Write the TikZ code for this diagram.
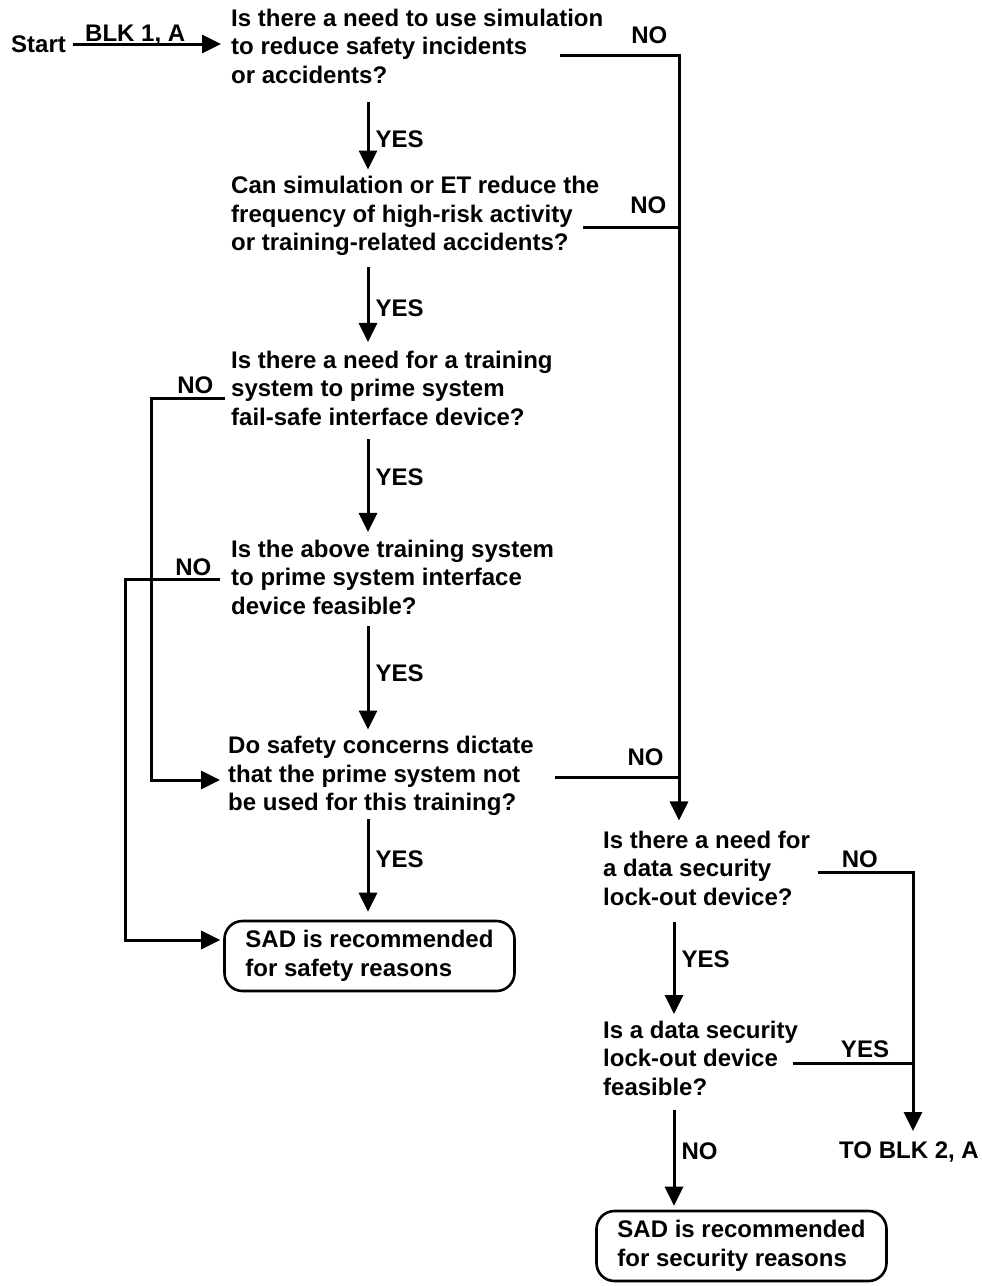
\documentclass[tikz,border=0pt]{standalone}
\usepackage{fontspec}
\setmainfont{Liberation Sans}
\usetikzlibrary{arrows.meta}
\begin{document}
\begin{tikzpicture}[x=1pt,y=-1pt,
  every node/.style={font=\bfseries\fontsize{24}{28.5}\selectfont, inner sep=0pt},
  q/.style={align=left, anchor=west},
  wire/.style={line width=3pt},
  arr/.style={wire, -{Triangle[width=18pt,length=19pt]}},
  yes/.style={anchor=west, xshift=6pt},
  onwire/.style={anchor=base, yshift=#1},
  endbox/.style={draw, line width=2.6pt, rounded corners=18pt, align=left,
                 minimum width=290pt, minimum height=70pt}]
\useasboundingbox (0,0) rectangle (982,1286);

% decisions
\node[anchor=west] (start) at (11,44) {Start};
\node[q] (q1) at (231,46) {Is there a need to use simulation\\to reduce safety incidents\\or accidents?};
\node[q] (q2) at (231,216) {Can simulation or ET reduce the\\frequency of high-risk activity\\or training-related accidents?};
\node[q] (q3) at (231,388) {Is there a need for a training\\system to prime system\\fail-safe interface device?};
\node[q] (q4) at (231,577) {Is the above training system\\to prime system interface\\device feasible?};
\node[q] (q5) at (228,776) {Do safety concerns dictate\\that the prime system not\\be used for this training?};
\node[q] (q6) at (603,868) {Is there a need for\\a data security\\lock-out device?};
\node[q] (q7) at (603,1058) {Is a data security\\lock-out device\\feasible?};

% outcomes
\node[endbox] (s1) at (369.5,956) {SAD is recommended\\for safety reasons};
\node[endbox] (s2) at (741.5,1246) {SAD is recommended\\for security reasons};
\node (tob) at (909,1152) {TO BLK 2, A};

% columns and branch starts
\coordinate (colA) at (368,0);
\coordinate (colB) at (674,0);
\coordinate (busR) at (679,0);
\coordinate (busRR) at (913,0);
\coordinate (busL1) at (151,0);
\coordinate (busL2) at (125,0);
\coordinate (q1no) at (560,55);
\coordinate (q2no) at (583,227);
\coordinate (q5no) at (555,777);
\coordinate (q6no) at (818,872);
\coordinate (q7yes) at (793,1063);
\coordinate (q3no) at (225,398);
\coordinate (q4no) at (220,579);

% entry
\draw[arr] ([xshift=7pt]start.east) -- node[pos=0.42, onwire=2.5pt] {BLK 1, A} ([xshift=-10pt]q1.west |- start.east);

% main YES chain
\draw[arr] ([yshift=-18pt]q1.south -| colA) -- node[yes, pos=0.55] {YES} ([yshift=6.5pt]q2.north -| colA);
\draw[arr] ([yshift=-11.5pt]q2.south -| colA) -- node[yes, pos=0.55] {YES} ([yshift=8.5pt]q3.north -| colA);
\draw[arr] ([yshift=-13.5pt]q3.south -| colA) -- node[yes, pos=0.41] {YES} ([yshift=7.5pt]q4.north -| colA);
\draw[arr] ([yshift=-11.5pt]q4.south -| colA) -- node[yes, pos=0.46] {YES} ([yshift=6.5pt]q5.north -| colA);
\draw[arr] ([yshift=-3pt]q5.south -| colA) -- node[yes, pos=0.43] {YES} ([yshift=8pt]s1.north -| colA);

% right NO bus
\draw[arr] (q1no) -- node[pos=0.75, onwire=12pt] {NO} (q1no -| busR) -- ([yshift=10pt]q6.north -| busR);
\draw[wire] (q2no) -- node[pos=0.68, onwire=14pt] {NO} (q2no -| busR);
\draw[wire] (q5no) -- node[pos=0.73, onwire=11.6pt] {NO} (q5no -| busR);

% left NO loops
\draw[arr] (q3no) -- node[pos=0.4, onwire=5pt] {NO} (q3no -| busL1) |- ([xshift=-8pt,yshift=-4pt]q5.west);
\draw[arr] (q4no) -- node[pos=0.28, onwire=4pt] {NO} (q4no -| busL2) |- ([xshift=-3pt,yshift=16pt]s1.west);

% security branch
\draw[arr] ([yshift=-16.5pt]q6.south -| colB) -- node[yes, pos=0.41] {YES} ([yshift=6.5pt]q7.north -| colB);
\draw[arr] ([yshift=-14.5pt]q7.south -| colB) -- node[yes, pos=0.43] {NO} ([yshift=4pt]s2.north -| colB);
\draw[arr] (q6no) -- node[pos=0.44, onwire=5pt] {NO} (q6no -| busRR) -- ([yshift=10.5pt]tob.north -| busRR);
\draw[wire] (q7yes) -- node[pos=0.6, onwire=6pt] {YES} (q7yes -| busRR);
\end{tikzpicture}
\end{document}
